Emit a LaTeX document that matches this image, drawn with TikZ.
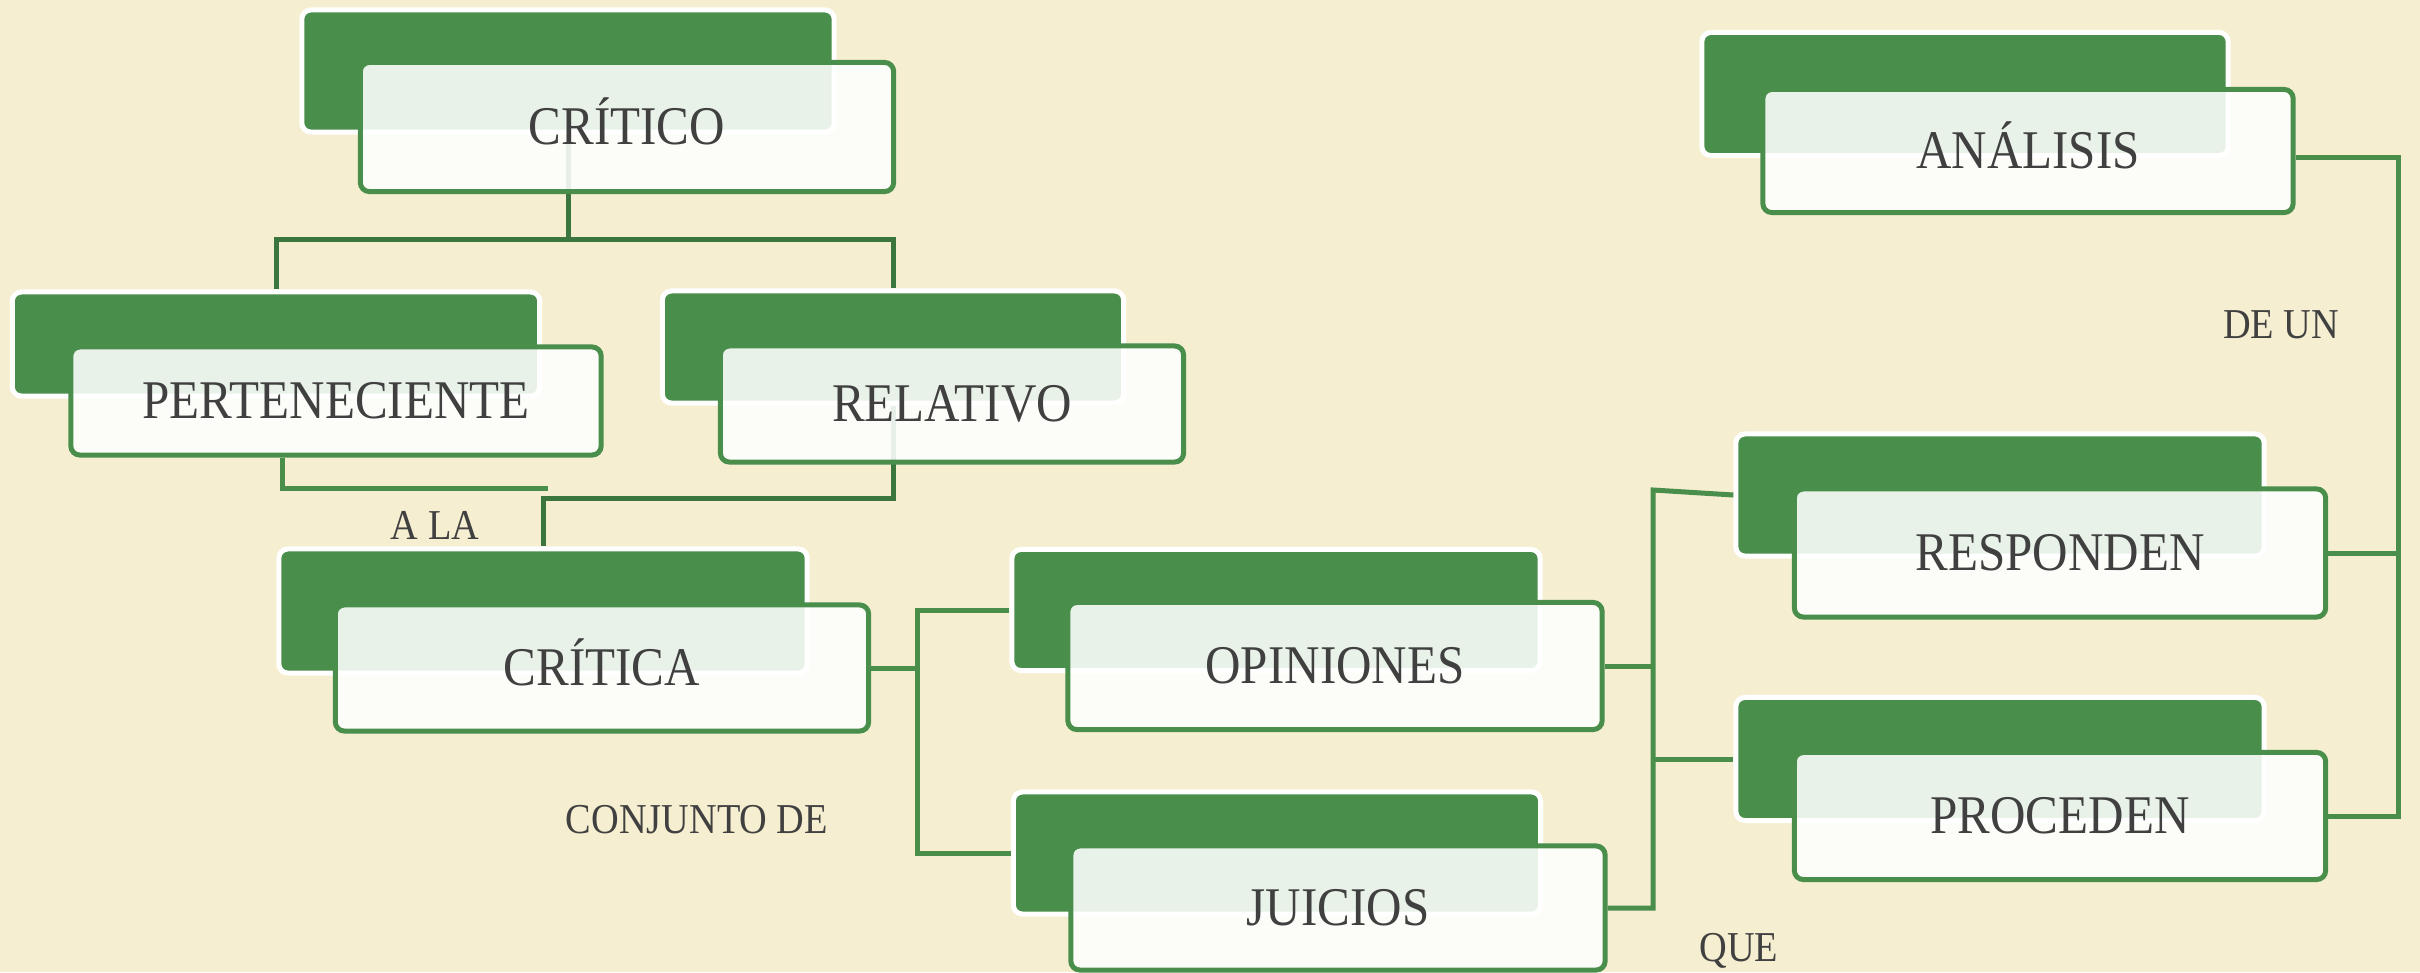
\documentclass[tikz,border=0pt]{standalone}
\usepackage{fontspec}
\newfontfamily\boxfont{Liberation Serif}[FakeStretch=0.9]
\definecolor{bgc}{HTML}{F5EED0}
\definecolor{dkg}{HTML}{4A8E4C}
\definecolor{lng}{HTML}{4A8E4C}
\definecolor{lngd}{HTML}{3C763F}
\definecolor{txt}{HTML}{404040}
\definecolor{frontfill}{HTML}{FEFFFE}
\pgfdeclarelayer{backl}
\pgfdeclarelayer{connl}
\pgfsetlayers{backl,connl,main}
\tikzset{
  back/.style={draw=white, line width=0.05cm, fill=dkg, rounded corners=0.09cm, inner sep=0pt},
  front/.style={draw=lng, line width=0.05cm, fill=frontfill, fill opacity=0.886, text opacity=1,
     rounded corners=0.09cm, inner sep=0pt, text=txt, font=\boxfont\fontsize{15.5}{18}\selectfont,
     text height=1.02em, text depth=0pt},
  conn/.style={draw=lng, line width=0.05cm},
  conndk/.style={draw=lngd, line width=0.05cm},
  lbl/.style={text=txt, inner sep=0pt, font=\boxfont\fontsize{12.1}{15}\selectfont, text height=0.8em, text depth=0pt},
}
\begin{document}
\begin{tikzpicture}[x=0.01cm, y=-0.01cm]
\begin{pgfonlayer}{backl}
\fill[bgc] (0,0) rectangle (2420,972);
\end{pgfonlayer}
\useasboundingbox (0,0) rectangle (2420,972);

% back boxes
\begin{pgfonlayer}{backl}
\path
  (568,71)   node[back, minimum width=5.32cm, minimum height=1.22cm] (criticoB) {}
  (276,344)  node[back, minimum width=5.27cm, minimum height=1.04cm] (perteneB) {}
  (893,347)  node[back, minimum width=4.61cm, minimum height=1.12cm] (relativoB) {}
  (543,611)  node[back, minimum width=5.28cm, minimum height=1.24cm] (criticaB) {}
  (1276,610) node[back, minimum width=5.28cm, minimum height=1.21cm] (opinionesB) {}
  (1277,853) node[back, minimum width=5.27cm, minimum height=1.22cm] (juiciosB) {}
  (2000,495) node[back, minimum width=5.28cm, minimum height=1.22cm] (respondenB) {}
  (2000,759) node[back, minimum width=5.28cm, minimum height=1.23cm] (procedenB) {}
  (1965,94)  node[back, minimum width=5.26cm, minimum height=1.23cm] (analisisB) {};
\end{pgfonlayer}

% front boxes
\node[front, minimum width=5.33cm, minimum height=1.29cm] (critico) at (627,127) {CRÍTICO};
\node[front, minimum width=5.30cm, minimum height=1.08cm] (pertene) at (336,401) {PERTENECIENTE};
\node[front, minimum width=4.63cm, minimum height=1.16cm] (relativo) at (952,404) {RELATIVO};
\node[front, minimum width=5.33cm, minimum height=1.26cm] (critica) at (602,668) {CRÍTICA};
\node[front, minimum width=5.34cm, minimum height=1.27cm] (opiniones) at (1335,666) {OPINIONES};
\node[front, minimum width=5.34cm, minimum height=1.24cm] (juicios) at (1338,908) {JUICIOS};
\node[front, minimum width=5.31cm, minimum height=1.28cm] (responden) at (2060,553) {RESPONDEN};
\node[front, minimum width=5.31cm, minimum height=1.27cm] (proceden) at (2060,816) {PROCEDEN};
\node[front, minimum width=5.30cm, minimum height=1.23cm] (analisis) at (2028,151) {ANÁLISIS};

% connector coordinates
\coordinate (h1) at (0,239);
\coordinate (a1) at (282,488);
\coordinate (a2) at (548,488);
\coordinate (b1) at (0,498);
\coordinate (v1) at (917,0);
\coordinate (v2) at (1653,0);
\coordinate (v2top) at (1653,490);
\coordinate (v3) at (2398,0);

% connectors, behind the translucent front boxes
\begin{pgfonlayer}{connl}
\path[conndk] (criticoB.south) -- (criticoB |- h1);
\path[conndk] (perteneB.north) -- (perteneB |- h1) -- (relativoB |- h1) -- (relativoB.north);
\path[conn] (pertene.south -| a1) -- (a1) -- (a2);
\path[conndk] (relativoB.south) -- (relativoB |- b1) -- (criticaB |- b1) -- (criticaB.north);
\path[conn] (critica.east) -- (critica.east -| v1);
\path[conn] (opinionesB.west) -- (opinionesB.west -| v1) -- (juiciosB.west -| v1) -- (juiciosB.west);
\path[conn] (opiniones.east) -- (opiniones.east -| v2);
\path[conn] (juicios.east) -- (juicios.east -| v2) -- (v2top) -- (respondenB.west);
\path[conn] (procedenB.west -| v2) -- (procedenB.west);
\path[conn] ([yshift=-0.06cm]analisis.east) -- ([yshift=-0.06cm]analisis.east -| v3) -- (proceden.east -| v3) -- (proceden.east);
\path[conn] (responden.east) -- (responden.east -| v3);
\end{pgfonlayer}

% labels
\node[lbl] (lala) at (435,525) {A LA};
\node[lbl] (conj) at (697,819) {CONJUNTO DE};
\node[lbl] (que) at (1739,947) {QUE};
\node[lbl] (deun) at (2281,324) {DE UN};
\end{tikzpicture}
\end{document}
